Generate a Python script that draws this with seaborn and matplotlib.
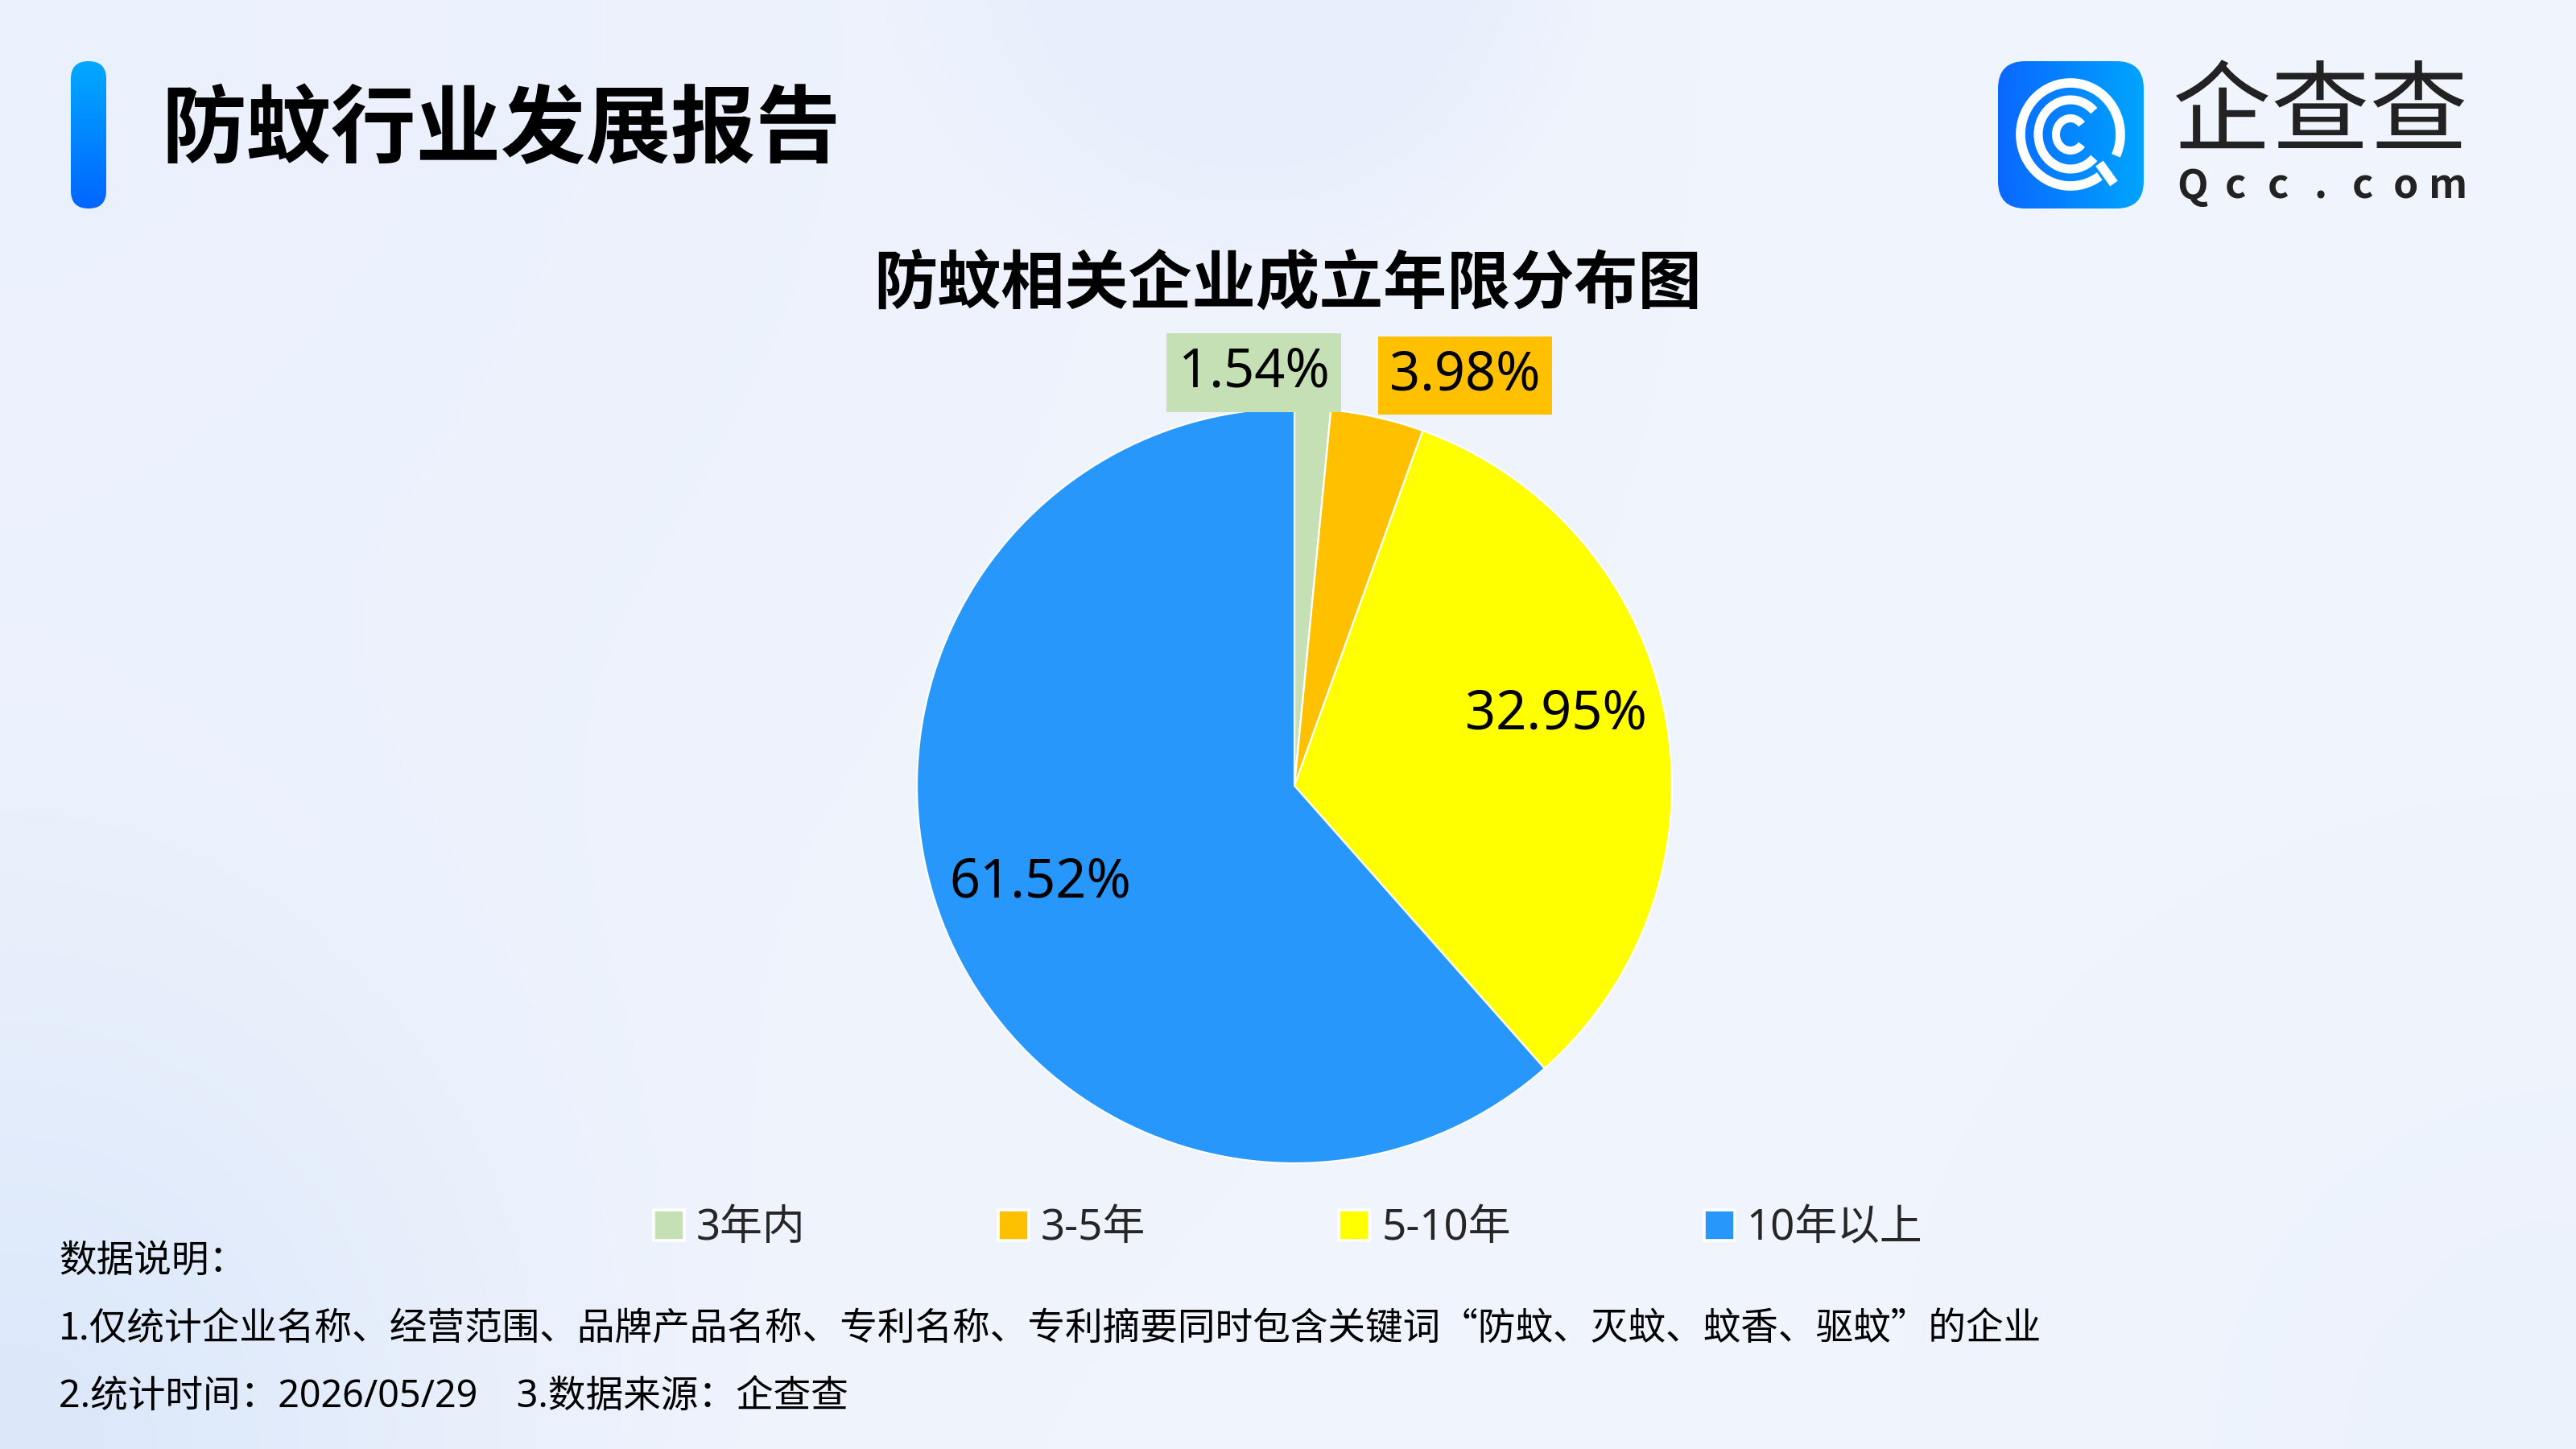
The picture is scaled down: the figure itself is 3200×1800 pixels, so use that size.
import numpy as np
import matplotlib
matplotlib.use('Agg')
import matplotlib.pyplot as plt
from matplotlib.patches import FancyBboxPatch, Arc, Patch
import seaborn as sns

# data
categories = ['3年内', '3-5年', '5-10年', '10年以上']
shares = [1.54, 3.98, 32.95, 61.52]
colors = ['#C5E0B4', '#FFC000', '#FFFF00', '#2797FB']

header = '防蚊行业发展报告'
chart_title = '防蚊相关企业成立年限分布图'
note_lines = [
    '数据说明：',
    '1.仅统计企业名称、经营范围、品牌产品名称、专利名称、专利摘要同时包含关键词“防蚊、灭蚊、蚊香、驱蚊”的企业',
    '2.统计时间：2026/05/29    3.数据来源：企查查',
]

sns.set_theme(style='white')
plt.rcParams['font.family'] = ['Noto Sans', 'Noto Sans CJK SC', 'DejaVu Sans']
cjk = ['Noto Sans CJK SC', 'DejaVu Sans']
latin = ['Noto Sans', 'Noto Sans CJK SC', 'DejaVu Sans']

W, H = 3200, 1800
fig = plt.figure(figsize=(16, 9), dpi=200)

# full-figure axes in pixel units for background, header and logo
bg = fig.add_axes([0, 0, 1, 1])
bg.set_xlim(0, W)
bg.set_ylim(H, 0)
bg.axis('off')

# soft background
yy, xx = np.mgrid[0:H:4, 0:W:4].astype(float)
img = np.ones(xx.shape + (3,)) * np.array([0xF1, 0xF5, 0xFD]) / 255
def blend(img, col, w):
    col = np.array(col) / 255
    return img * (1 - w[..., None]) + col * w[..., None]
img = blend(img, [0xEA, 0xF0, 0xFC], np.exp(-(xx ** 2 + yy ** 2) / (2 * 1100 ** 2)) * 0.9)
img = blend(img, [0xDA, 0xE7, 0xFA], np.exp(-(xx ** 2 + (yy - H) ** 2) / (2 * 420 ** 2)) * 0.9)
d = np.sqrt((xx - 1560) ** 2 + (yy + 80) ** 2)
img = blend(img, [0xE7, 0xEF, 0xFD], np.clip((480 - d) / 200, 0, 1) * 0.8)
img = blend(img, [0xEA, 0xF1, 0xFD], np.exp(-((xx - W) ** 2 + (yy - H) ** 2) / (2 * 450 ** 2)) * 0.7)
bg.imshow(img, extent=(0, W, H, 0), aspect='auto', zorder=0)

# header bar
bar = FancyBboxPatch((88, 76), 44, 183, boxstyle='round,pad=0,rounding_size=22',
                     facecolor='none', edgecolor='none', zorder=2)
bg.add_patch(bar)
grad = np.linspace(0, 1, 100)[:, None, None]
bar_img = (1 - grad) * np.array([0x00, 0xA8, 0xFF]) / 255 + grad * np.array([0x00, 0x66, 0xFF]) / 255
im = bg.imshow(np.repeat(bar_img, 2, axis=1), extent=(88, 132, 259, 76), aspect='auto', zorder=2)
im.set_clip_path(bar)
bg.text(200, 163, header, fontsize=38, fontweight='black', family=cjk,
        ha='left', va='center', color='#000000', zorder=3)

# logo
icon = FancyBboxPatch((2482, 76), 181, 183, boxstyle='round,pad=0,rounding_size=34',
                      facecolor='none', edgecolor='none', zorder=2)
bg.add_patch(icon)
gx = np.linspace(0, 1, 100)[None, :, None]
icon_img = (1 - gx) * np.array([0x0A, 0x68, 0xFF]) / 255 + gx * np.array([0x00, 0xA4, 0xFF]) / 255
im2 = bg.imshow(np.repeat(icon_img, 2, axis=0), extent=(2482, 2663, 259, 76), aspect='auto', zorder=2)
im2.set_clip_path(icon)
cx, cy = 2572, 167
# y axis is inverted, so angles are mirrored
bg.add_patch(Arc((cx, cy), 124, 128, theta1=55, theta2=385, color='white', lw=4.2, zorder=3))
bg.add_patch(Arc((cx, cy), 80, 86, theta1=45, theta2=315, color='white', lw=4.0, zorder=3))
bg.add_patch(Arc((cx, cy), 36, 40, theta1=42, theta2=318, color='white', lw=3.6, zorder=3))
bg.plot([2608, 2626], [203, 228], color='white', lw=4.2, solid_capstyle='butt', zorder=3)
bg.text(2882, 144, '企查查', fontsize=44, fontweight='normal', family=cjk,
        ha='center', va='center', color='#222222', zorder=3)
for ch, x in zip('Qcc.com', np.linspace(2724, 3041, 7)):
    bg.text(x, 232, ch, fontsize=18, fontweight='bold', family=cjk,
            ha='center', va='center', color='#222222', zorder=3)

# chart title
bg.text(1600, 353, chart_title, fontsize=28.5, fontweight='bold', family=cjk,
        ha='center', va='center', color='#000000', zorder=3)

# pie
r_px = 469
pie_ax = fig.add_axes([(1608 - r_px) / W, (H - 976 - r_px) / H, 2 * r_px / W, 2 * r_px / H])
wedges, _ = pie_ax.pie(shares, colors=colors, startangle=90, counterclock=False,
                       wedgeprops=dict(edgecolor='white', linewidth=0.8))
for w in wedges:
    w.set_clip_on(False)
pie_ax.set_xlim(-1, 1)
pie_ax.set_ylim(-1, 1)
pie_ax.axis('off')

label_xy = [(-0.107, 1.094), (0.452, 1.087), (0.693, 0.188), (-0.674, -0.257)]
boxed = [True, True, False, False]
for val, col, (lx, ly), b in zip(shares, colors, label_xy, boxed):
    kw = {}
    if b:
        kw['bbox'] = dict(boxstyle='square,pad=0.22', facecolor=col, edgecolor='none')
    pie_ax.text(lx, ly, f'{val:.2f}%', fontsize=24, ha='center', va='center',
                color='#000000', clip_on=False, **kw)

# legend
handles = [Patch(facecolor=c, edgecolor='white', linewidth=1.3) for c in colors]
fig.legend(handles, categories, loc='center', bbox_to_anchor=(0.5, 1 - 1527 / H), ncol=4,
           frameon=False, fontsize=19, handlelength=0.72, handleheight=0.72,
           handletextpad=0.28, columnspacing=4.55)

# notes
for txt, y, fam in zip(note_lines, [1566, 1651, 1735], [cjk, cjk, latin]):
    bg.text(73, y, txt, fontsize=16.8, family=fam, ha='left', va='center',
            color='#000000', zorder=3)

fig.savefig('out.png', dpi=200)
